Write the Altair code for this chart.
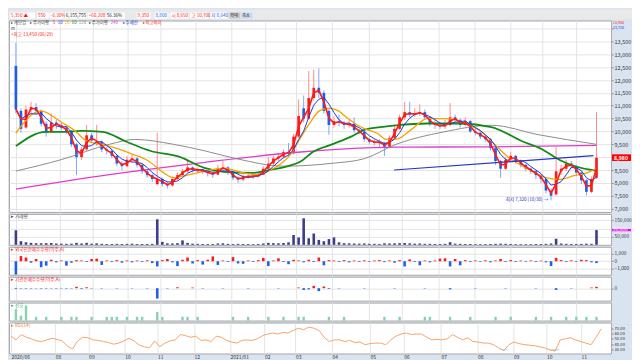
import altair as alt
import pandas as pd

# ---------------- data ----------------
OPEN = [12550,10800,10150,10850,10950,10800,10300,10000,10350,10250,
        10150,10000,9500,9000,9300,9850,9500,9600,9300,9250,
        9050,8750,8650,8900,8950,8700,8450,8300,7950,8150,
        7950,7900,8150,8300,8450,8600,8450,8520,8430,8380,
        8320,8550,8600,8400,8200,8130,8250,8280,8250,8320,
        8550,8750,8950,9020,9200,9150,9800,10900,10500,11300,
        11700,11500,10800,10250,10400,10350,10250,10300,10050,9980,
        9700,9550,9600,9550,9400,9750,10100,10550,10750,10650,
        10700,10750,10550,10300,10250,10200,10250,10550,10450,10250,
        10400,10000,9950,9800,9700,9350,8850,8550,8900,9050,
        8850,8700,8550,8450,8300,8150,7700,7550,8450,8550,
        8750,8650,8400,8100,7650,8200]
HIGH = [13450,10900,11000,11150,11100,10850,10400,10700,10450,10350,
        10250,10050,9550,9400,10250,9950,10250,9650,9400,9300,
        9100,8850,9050,9100,9000,8750,8500,8350,9950,8200,
        8050,8250,8400,8550,8850,8650,8600,8550,8500,8450,
        8700,8850,8650,8450,8250,8350,8350,8350,8400,8650,
        9000,9050,9150,9300,9550,9900,11250,11400,12350,12400,
        12450,11600,10900,10600,10650,10400,10450,10550,10100,10050,
        9750,9700,9700,9600,9850,10200,10650,11150,11150,10900,
        11050,10850,10600,10450,10350,10450,11100,10650,10500,10550,
        10450,10100,10000,9850,9750,9400,8900,9000,9200,9100,
        8900,8750,8600,8500,8350,8200,7800,9400,8700,8900,
        8850,8700,8450,8150,8250,10750]
LOW = [10700,9950,10100,10700,10650,10200,9800,9950,10100,10050,
       9900,9400,8300,8900,9250,9550,9450,9200,9100,8950,
       8650,8500,8600,8800,8600,8350,8200,8050,7900,7850,
       7780,7850,8100,8250,8400,8400,8400,8350,8250,8200,
       8300,8450,8300,8100,8000,8050,8150,8150,8200,8300,
       8500,8700,8850,8950,9050,9100,9750,10350,10450,11200,
       11300,10700,9870,10150,10200,10100,10150,9950,9900,9600,
       9500,9450,9400,9050,9350,9700,10050,10450,10550,10550,
       10600,10450,10200,10100,10100,10100,10200,10350,10150,10200,
       9950,9850,9700,9600,9250,8700,8200,8500,8850,8750,
       8600,8450,8350,8150,8000,7600,7320,7500,8300,8450,
       8550,8300,7950,7500,7600,8150]
CLOSE = [10870,10100,10850,10950,10800,10300,9950,10350,10250,10150,
         10000,9500,9000,9300,9850,9650,9600,9300,9250,9050,
         8750,8650,8900,8950,8700,8450,8300,8150,8150,7950,
         7900,8150,8300,8450,8600,8500,8520,8430,8380,8320,
         8550,8600,8400,8200,8130,8250,8270,8250,8320,8550,
         8750,8950,9020,9200,9150,9800,10600,10500,11300,11700,
         11500,10800,10250,10400,10350,10250,10300,10050,9980,9700,
         9600,9600,9550,9400,9750,10100,10550,10750,10650,10700,
         10750,10550,10300,10250,10200,10250,10550,10450,10250,10400,
         10000,9950,9800,9700,9350,8850,8550,8900,9050,8850,
         8700,8550,8450,8300,8150,7700,7500,8450,8550,8750,
         8650,8400,8100,7650,8150,8980]
VOLUME = [89000,22000,15000,12000,10000,9000,10000,11000,8000,7000,
          6000,7000,12000,8000,12000,7000,9000,6000,5000,5000,
          6000,5000,6000,7000,5000,5000,5000,6000,156000,18000,
          9000,8000,10000,27000,12000,7000,6000,5000,5000,5000,
          8000,9000,6000,5000,6000,5000,5000,4000,5000,8000,
          12000,10000,9000,11000,15000,60000,45000,162000,40000,69000,
          30000,22000,35000,45000,15000,10000,9000,8000,7000,8000,
          6000,6000,5000,9000,8000,9000,10000,11000,9000,7000,
          8000,6000,6000,5000,5000,6000,16000,7000,6000,5000,
          5000,4000,4000,4000,5000,6000,7000,6000,5000,4000,
          4000,4000,4000,5000,5000,6000,8000,37000,8000,6000,
          5000,5000,6000,7000,6000,90000]
FOREIGN = [-1800,700,500,-200,300,-800,-600,200,-150,100,
           -600,-200,150,100,-100,300,350,-500,100,-100,
           150,-200,100,-150,100,-100,120,-250,-700,150,
           300,-150,-650,200,500,-300,150,-450,200,650,
           -500,100,-100,550,-300,-350,100,-100,150,450,
           -650,100,400,-100,-400,200,100,-150,200,-100,
           500,-550,150,100,-100,150,-150,100,-100,120,
           -80,100,150,-120,100,-200,150,-700,250,-100,
           -550,100,-150,100,350,400,-700,300,-550,150,
           -100,100,-80,120,-150,100,300,-100,150,-100,
           100,-80,100,-100,80,-150,-650,450,150,-100,
           120,-80,200,150,-150,-250]
INSTITUTION = [-60,-40,-50,-40,-30,-50,-40,-30,-40,-30,-40,-30,
               120,-60,80,-30,0,-30,0,0,-30,0,0,-30,0,0,-30,0,
               -900,
               0,-30,0,80,0,0,60,0,-30,0,0,0,-30,0,0,0,0,-30,0,0,0,0,0,-30,0,0,0,
               60,-150,-100,200,-250,150,-60,
               0,-30,0,0,0,0,-30,0,0,0,0,0,-30,0,0,0,0,0,-30,0,
               0,0,0,-100,0,0,0,0,-30,0,0,0,0,0,-30,0,0,0,0,0,-30,0,0,0,
               -150,0,0,-30,0,0,0,
               60,120]
RSI = [55,48,58,53,50,46,45,48,51,49,
       46,36,31,46,53,52,48,47,45,43,
       40,42,46,51,46,38,35,33,46,35,
       42,46,48,58,56,53,55,47,48,45,
       55,53,47,44,42,47,48,47,50,56,
       59,61,59,62,61,66,70,67,72,70,
       66,53,45,48,48,45,47,43,44,39,
       41,42,42,39,48,55,59,61,58,59,
       59,53,48,49,48,50,58,53,48,52,
       45,44,42,42,39,33,28,39,44,41,
       39,38,37,35,33,29,27,48,50,52,
       48,45,42,39,53,69]
SIGNAL_K = [0,1,2,4,6,9,11,12,15,18,19,20,22,24,25,28,29,33,34,36,
            43,46,50,53,56,57,62,65,73,76,81,82,86,90,95,98,103,106,109,111,113,115]
SIGNAL_V = [3,1.3,4,1,1,1,1,1,1,1,1,1,1,1,1,2.3,1,1,1,1,
            1,1,1,1,1,1,1,1,1,1,1,1,1,1,1,1,1,1,1,1,1,1]

ORANGE_K = [0,4.9,9.1,11.5,14.2,17.2,20.4,22.9,26.1,29.3,31.2,34.2,37.5,41.2,45,48.2,50.1,52.6,54.5,56.4,
            58.3,60.1,62,63.9,65.8,67.7,69.6,71.5,73.4,75.3,78.5,81.5,85.3,89.1,92.3,94.8,97.4,101.8,105,107.4,
            110.6,113.1,115]
ORANGE_V = [9940,10800,10350,10060,9610,9500,9310,9130,8870,8390,8200,8310,8460,8570,8390,8310,8460,8760,9130,9760,
            10350,10800,10910,10800,10500,10240,10060,9940,9690,9700,10100,10500,10500,10310,9980,9500,9020,8500,8200,8130,
            8280,8390,8570]
GREEN_K = [0,5.9,9.1,12.9,17.2,21.8,26.7,32.3,37.5,41.2,46.9,50.1,53.9,56.4,58.8,62.6,66.4,69,72.1,75.3,
           81.5,88,94.2,100.4,104.2,107.9,114.1,115]
GREEN_V = [9430,9980,9980,10020,9980,9610,9240,9020,8570,8430,8390,8500,8650,8830,9200,9500,9800,10060,10170,10240,
           10310,10310,10170,9610,9310,8870,8500,8480]
GRAY_K = [0,9.1,18.5,23.6,31.2,37.5,43.7,53.1,62.6,69,75.3,84.7,94.2,103.6,115]
GRAY_V = [8460,8910,9500,9690,9500,9240,8940,8650,8760,8940,9500,9980,10240,9870,9500]
MAGENTA_K = [0,18.5,37.5,56.4,75.3,94.2,115]
MAGENTA_V = [7760,8320,8800,9200,9390,9400,9460]
TREND_K = [74.9,114.4]
TREND_V = [8500,9060]

MONTH_POS = [0,8.64,15.13,22.19,28.56,35.65,42.65,49.37,55.42,62.55,69.93,76.51,83.79,90.88,97.88,104.31,111.03]
MONTH_LABELS = ["2020/06","08","09","10","11","12","2021/01","02","03","04","05","06","07","08","09","10","11"]
PRICE_TICKS = [7000,7500,8000,8500,9000,9500,10000,10500,11000,11500,12000,12500,13000,13500,14000]
VOL_TICKS = [50000,100000,150000]
FRG_TICKS = [-1000,0,1000]
INS_TICKS = [0]
RSI_TICKS = [30,40,50,60,70]
RSI_LINES = [30,70]

# ---------------- styling ----------------
FONT = "Noto Sans CJK KR"
W = 604
AXW = 20
BG = "#dae4f0"
GRID = "#e4e4e4"
BORDER = "#a8a8a8"
UP = "#ff1a1a"
DN = "#1f5fe8"
WUP = "#ff8c8c"
WDN = "#7fa6ff"

df = pd.DataFrame({"k": list(range(len(CLOSE))), "open": OPEN, "high": HIGH, "low": LOW,
                   "close": CLOSE, "vol": VOLUME, "frg": FOREIGN, "ins": INSTITUTION, "rsi": RSI})

xscale = alt.Scale(domain=[-0.38, 116.9], nice=False, zero=False)
lab_expr = "".join(f"abs(datum.value - {p}) < 0.01 ? '{l}' : " for p, l in zip(MONTH_POS, MONTH_LABELS)) + "''"


def X(bottom=False):
    ax = alt.Axis(values=MONTH_POS, grid=True, gridColor=GRID, gridWidth=1, ticks=False, domain=False,
                  title=None, labels=bottom, labelExpr=lab_expr, labelAlign="left", labelBaseline="top",
                  labelFontSize=5, labelColor="#333333", labelPadding=1, labelFont=FONT,
                  labelFlush=False, labelOverlap=False)
    return alt.X("k", type="quantitative", scale=xscale, axis=ax)


def yaxis(values, expr, size=5.5, grid=True):
    return alt.Axis(orient="right", values=values, grid=grid, gridColor=GRID, title=None, domain=False,
                    tickSize=2, tickColor="#888888", labelFontSize=size, labelColor="#333333",
                    labelFont=FONT, labelPadding=1, minExtent=AXW, maxExtent=AXW, labelExpr=expr,
                    labelOverlap=False, labelBaseline="middle")


def T(x, y, s, color="#333333", size=5, align="left", weight="normal", font=FONT):
    return alt.Chart(pd.DataFrame({"t": [s]})).mark_text(
        align=align, baseline="middle", fontSize=size, color=color, fontWeight=weight, font=font
    ).encode(text="t:N", x=alt.value(x), y=alt.value(y))


def R(x, x2, y, y2, color):
    return alt.Chart(pd.DataFrame({"a": [0]})).mark_rect(color=color).encode(
        x=alt.value(x), x2=alt.value(x2), y=alt.value(y), y2=alt.value(y2))


# ---------------- toolbar ----------------
tool_layers = [
    R(1, 26, 3, 9, "white"), T(2, 6, "5,350 ▲", UP, 4.6),
    R(28, 40, 3, 9, "white"), T(29, 6, "550", UP, 4.6),
    R(41, 55, 3, 9, "white"), T(42, 6, "-6.30%", UP, 4.6),
    R(56, 78, 3, 9, "white"), T(57, 6, "6,155,755", "#222222", 4.6),
    R(79, 96, 3, 9, "white"), T(80, 6, "+60,208", UP, 4.6),
    R(97, 116, 3, 9, "white"), T(98, 6, "56.36%", "#222222", 4.6),
    R(128, 142, 3, 9, "white"), T(129, 6, "9,350", UP, 4.6),
    R(146, 160, 3, 9, "white"), T(147, 6, "8,800", DN, 4.6),
    R(162, 180, 3, 9, "white"), T(163, 6, "시 8,650", UP, 4.6),
    R(182, 200, 3, 9, "white"), T(183, 6, "고 10,700", UP, 4.6),
    R(202, 219, 3, 9, "white"), T(203, 6, "저 8,640", DN, 4.6),
    R(221, 232, 3, 9, "#c8c8c8"), T(222, 6, "확대", "#222222", 4.2),
    R(233, 244, 3, 9, "#c8d8f0"), T(234, 6, "축소", "#222222", 4.2),
]
toolbar = alt.layer(*tool_layers).properties(
    width=W + AXW, height=9, view=alt.ViewBackground(fill="#e9e9e9", stroke="#e9e9e9"))

# ---------------- price panel ----------------
pscale = alt.Scale(domain=[6870, 14315], nice=False, zero=False)
# the 14,000 label sits under the top-right price notes, the 9,000 label under the current-price box
pax = yaxis(PRICE_TICKS, "datum.value == 14000 || datum.value == 9000 ? '' : format(datum.value, ',')")


def PY(f):
    return alt.Y(f, type="quantitative", scale=pscale, axis=pax)


up = "datum.close >= datum.open"
wick = alt.Chart(df).mark_rule(strokeWidth=1).encode(
    x=X(), y=PY("low"), y2=alt.Y2("high"), color=alt.condition(up, alt.value(WUP), alt.value(WDN)))
body = alt.Chart(df).mark_bar(size=2.7).encode(
    x=X(), y=PY("open"), y2=alt.Y2("close"), color=alt.condition(up, alt.value(UP), alt.value(DN)))
ma5 = alt.Chart(df).transform_window(ma5="mean(close)", frame=[-1, 0], sort=[alt.SortField("k")]).mark_line(
    color=UP, strokeWidth=1.6).encode(x=X(), y=PY("ma5"))
ma10 = alt.Chart(df).transform_window(ma10="mean(close)", frame=[-3, 0], sort=[alt.SortField("k")]).mark_line(
    color="#1a3fd8", strokeWidth=1).encode(x=X(), y=PY("ma10"))


def ma_line(ks, vs, color, w):
    return alt.Chart(pd.DataFrame({"k": ks, "v": vs})).mark_line(
        color=color, strokeWidth=w, interpolate="monotone").encode(x=X(), y=PY("v"))


box = alt.Chart(pd.DataFrame({"p": [CLOSE[-1]]})).transform_calculate(
    top="datum.p + 130", bot="datum.p - 130").mark_rect(color="#ff0000").encode(
    x=alt.value(W + 1), x2=alt.value(W + AXW), y=PY("top"), y2=alt.Y2("bot"))
box_t = alt.Chart(pd.DataFrame({"p": [CLOSE[-1]]})).mark_text(
    color="white", fontSize=5.2, align="left", font=FONT, fontWeight="bold").encode(
    x=alt.value(W + 3), y=PY("p"), text=alt.Text("p:Q", format=","))

price_layers = [
    wick, body,
    ma_line(MAGENTA_K, MAGENTA_V, "#e03ccc", 1.3),
    ma_line(GRAY_K, GRAY_V, "#8c8c8c", 1),
    ma_line(GREEN_K, GREEN_V, "#138a18", 1.8),
    ma_line(ORANGE_K, ORANGE_V, "#f5a300", 1.3),
    ma_line(TREND_K, TREND_V, "#2438c8", 1.2),
    ma10, ma5,
    T(2, 2.8, "▸ 계모업", "#444444", 4.4),
    T(21, 2.8, "▸ 주가이평", "#444444", 4.4),
    T(44, 2.8, "5", UP, 4.4), T(49, 2.8, "10", "#1a3fd8", 4.4), T(56, 2.8, "20", "#f5a300", 4.4),
    T(63, 2.8, "60", "#138a18", 4.4), T(70, 2.8, "120", "#8c8c8c", 4.4),
    T(80, 2.8, "▸ 주가이평", "#444444", 4.4), T(102, 2.8, "240", "#e03ccc", 4.4),
    T(114, 2.8, "▸ 추세선", "#2438c8", 4.4), T(134, 2.8, "▸ 최고최저", UP, 4.4),
    T(2, 8.6, "⊟", "#555555", 4.6, font="DejaVu Sans"),
    T(2, 15, "+최고 13,450 (06/29)", UP, 4.6),
    T(541, 180.5, "최저 7,320 (10/30) →", "#2438c8", 4.6, align="right"),
    T(W + 2, 2.0, "13,950", UP, 3.6), T(W + 2, 7.6, "13,720", "#2438c8", 3.6),
    box, box_t,
]
price = alt.layer(*price_layers).properties(width=W, height=192)

# ---------------- volume ----------------
vscale = alt.Scale(domain=[0, 189000], nice=False)
vax = yaxis(VOL_TICKS, "datum.value == 100000 ? '' : format(datum.value, ',')", 4.8)
vol_bars = alt.Chart(df).mark_bar(size=2.6, color="#3c3c8e").encode(
    x=X(), y=alt.Y("vol", type="quantitative", scale=vscale, axis=vax))
vol_box = alt.Chart(pd.DataFrame({"v": [VOLUME[-1]]})).transform_calculate(
    top="datum.v + 7000", bot="datum.v - 7000").mark_rect(color="#ff00ff").encode(
    x=alt.value(W + 1), x2=alt.value(W + AXW), y=alt.Y("top", type="quantitative", scale=vscale, axis=vax),
    y2=alt.Y2("bot"))
vol_bt = alt.Chart(pd.DataFrame({"v": [VOLUME[-1]]})).mark_text(
    color="white", fontSize=4.8, align="left", font=FONT).encode(
    x=alt.value(W + 2), y=alt.Y("v", type="quantitative", scale=vscale, axis=vax),
    text=alt.Text("v:Q", format=","))
volume = alt.layer(vol_bars, vol_box, vol_bt, T(2, 3.5, "▸ 거래량", "#444444", 4.6)).properties(width=W, height=31)

# ---------------- foreign net buying ----------------
fscale = alt.Scale(domain=[-1820, 1950], nice=False)
fax = yaxis(FRG_TICKS, "format(datum.value, ',')", 4.8)
frg = alt.layer(
    alt.Chart(df).mark_bar(size=2.6).encode(
        x=X(), y=alt.Y("frg", type="quantitative", scale=fscale, axis=fax),
        color=alt.condition("datum.frg >= 0", alt.value(UP), alt.value(DN))),
    T(2, 3.5, "▸ 외국인순매수수량(억주,A)", UP, 4.6),
).properties(width=W, height=28)

# ---------------- institution net buying ----------------
iscale = alt.Scale(domain=[-1080, 1000], nice=False)
iax = yaxis(INS_TICKS, "format(datum.value, ',')", 4.8)
ins = alt.layer(
    alt.Chart(df).mark_bar(size=2.6).encode(
        x=X(), y=alt.Y("ins", type="quantitative", scale=iscale, axis=iax),
        color=alt.condition("datum.ins >= 0", alt.value(UP), alt.value(DN))),
    T(2, 3.5, "▸ 기관순매수수량(억주,A)", UP, 4.6),
).properties(width=W, height=24)

# ---------------- signal bars ----------------
sscale = alt.Scale(domain=[0, 4.75], nice=False)
sax = yaxis([], "''", 4.8, grid=False)
sig = alt.layer(
    alt.Chart(pd.DataFrame({"k": SIGNAL_K, "s": SIGNAL_V})).mark_bar(size=2.4, color="#86d3b0").encode(
        x=X(), y=alt.Y("s", type="quantitative", scale=sscale, axis=sax)),
    T(2, 3.5, "▸ 신호", "#3aa87a", 4.6),
).properties(width=W, height=18)

# ---------------- RSI ----------------
rscale = alt.Scale(domain=[22.5, 80.6], nice=False)
rax = yaxis(RSI_TICKS, "format(datum.value, '.2f')", 4.2, grid=False)


def RY(f):
    return alt.Y(f, type="quantitative", scale=rscale, axis=rax)


rsi_rules = alt.Chart(pd.DataFrame({"r": RSI_LINES})).mark_rule(color="#c8c8c8", strokeWidth=1).encode(
    x=X(True), y=RY("r"))
rsi_fill = alt.Chart(df).transform_calculate(lo="min(datum.rsi, 30)").mark_area(color="#7cc8ea").encode(
    x=X(True), y=RY("lo"), y2=alt.datum(30))
rsi_line = alt.Chart(df).mark_line(color="#f5a56a", strokeWidth=1).encode(x=X(True), y=RY("rsi"))
rsi = alt.layer(rsi_rules, rsi_fill, rsi_line, T(2, 3.5, "▸ RSI(14)", "#e0803a", 4.6)).properties(
    width=W, height=31)

chart = alt.vconcat(toolbar, price, volume, frg, ins, sig, rsi, spacing=0).properties(
    padding=0
).configure(background=BG, font=FONT).configure_view(fill="white", stroke=BORDER, strokeWidth=1)

chart.save("out.html", embed_options={"renderer": "svg", "actions": False})
